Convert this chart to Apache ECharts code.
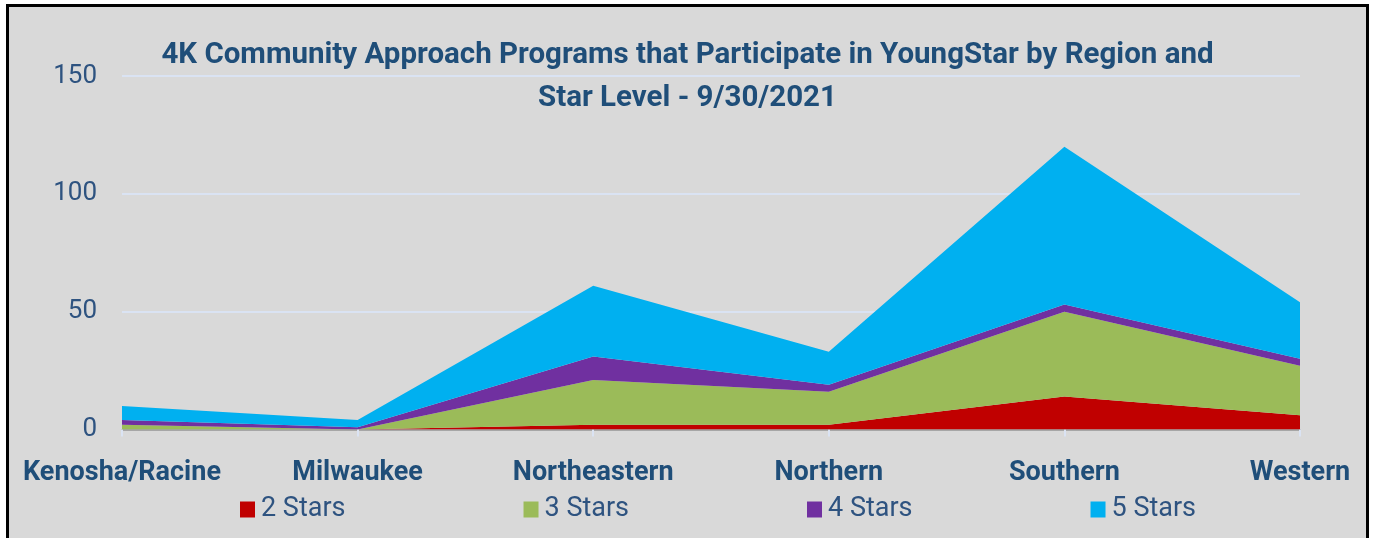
<!DOCTYPE html>
<html>
<head>
<meta charset="utf-8">
<script src="https://cdn.jsdelivr.net/npm/echarts@6/dist/echarts.min.js"></script>
<style>
body{margin:0;background:#fff;}
.frame{
    position:absolute;
    left:6px;
    top:4px;
    width:1363px;
    height:540px;
    box-sizing:border-box;
    border:3px solid #000;
    background:#d9d9d9;
    overflow:hidden;
}
#chart{width:1357px;height:534px;}
</style>
</head>
<body>
<div class="frame"><div id="chart"></div></div>
<script>
// regions on the x axis
var regions = ['Kenosha/Racine', 'Milwaukee', 'Northeastern', 'Northern', 'Southern', 'Western']
// programs per star level (stacked)
var twoStars = [0, 0, 2, 2, 14, 6]
var threeStars = [2, 0, 19, 14, 36, 21]
var fourStars = [2, 1, 10, 3, 3, 3]
var fiveStars = [6, 3, 30, 14, 67, 24]
var seriesNames = ['2 Stars', '3 Stars', '4 Stars', '5 Stars']
var seriesColors = ['#c00000', '#9bbb59', '#7030a0', '#00b0f0']

var txtColor = '#1f4e79'
var e = echarts.init(document.getElementById('chart'))

function areaSeries(name, data, color){
    return {
        name: name,
        type: 'line',
        stack: 'total',
        data: data,
        symbol: 'none',
        lineStyle: { width: 0 },
        areaStyle: { color: color, opacity: 1 },
        itemStyle: { color: color }
    }
}

var allData = [twoStars, threeStars, fourStars, fiveStars]

var option = {
    animation: false,
    textStyle: { fontFamily: 'Roboto' },
    title: {
        text: '4K Community Approach Programs that Participate in YoungStar by Region and\nStar Level - 9/30/2021',
        left: 'center',
        top: 22,
        textStyle: {
            color: txtColor,
            fontSize: 29.5,
            fontWeight: 'bold',
            lineHeight: 43
        }
    },
    grid: {
        left: 113,
        right: 66,
        top: 69,
        bottom: 111.5
    },
    legend: {
        left: 226,
        top: 484,
        itemWidth: 15,
        itemHeight: 16,
        itemGap: 178,
        icon: 'rect',
        textStyle: { color: '#2e5380', fontSize: 27, padding: [0, 0, 0, 1] },
        data: seriesNames
    },
    xAxis: {
        type: 'category',
        boundaryGap: false,
        data: regions,
        axisLine: { lineStyle: { color: '#a6a6a6', width: 2 } },
        axisTick: { show: true, length: 7, lineStyle: { color: '#dae3f3', width: 2 } },
        axisLabel: {
            color: txtColor,
            fontSize: 27,
            fontWeight: 'bold',
            margin: 30,
            interval: 0
        }
    },
    yAxis: {
        type: 'value',
        min: 0,
        max: 150,
        interval: 50,
        axisLine: { show: false },
        axisTick: { show: false },
        splitLine: { lineStyle: { color: '#dae3f3', width: 2 } },
        axisLabel: { color: '#2e5380', fontSize: 26, margin: 25 }
    },
    series: seriesNames.map(function(n, i){ return areaSeries(n, allData[i], seriesColors[i]) })
}
e.setOption(option)
</script>
</body>
</html>
